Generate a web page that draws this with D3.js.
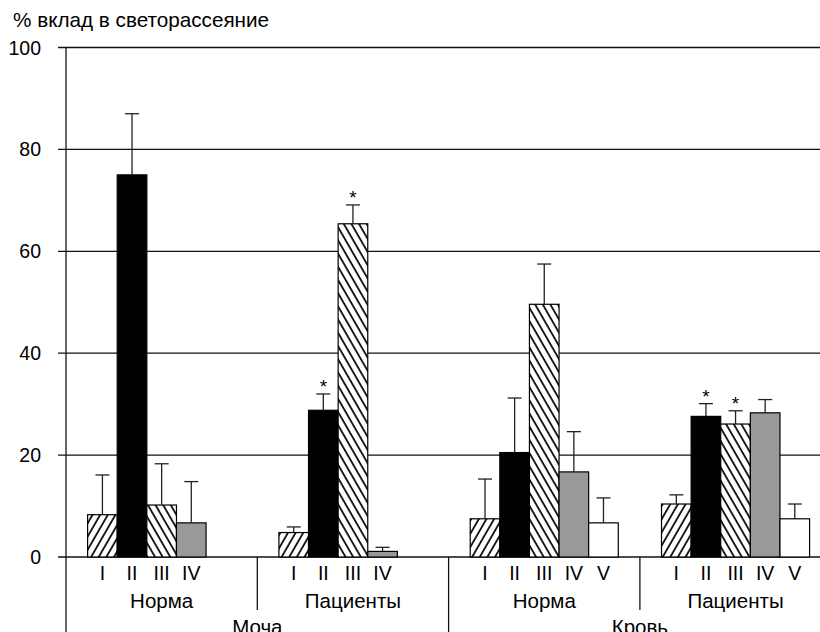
<!DOCTYPE html>
<html>
<head>
<meta charset="utf-8">
<script src="https://cdn.jsdelivr.net/npm/d3@7"></script>
<style>
  body { margin: 0; background: #fff; }
  svg text { font-family: "Liberation Sans", Arial, sans-serif; fill: #000; }
</style>
</head>
<body>
<div id="canvas"></div>
<script>
// data
var fractions = ['I', 'II', 'III', 'IV', 'V'];
var groups = ['Норма', 'Пациенты', 'Норма', 'Пациенты'];
var sources = ['Моча', 'Моча', 'Кровь', 'Кровь'];

var mochaNormaMean = [8.3, 75.0, 10.2, 6.7];
var mochaNormaErr = [7.8, 12.0, 8.1, 8.1];
var mochaPatMean = [4.8, 28.8, 65.4, 1.1];
var mochaPatErr = [1.1, 3.2, 3.7, 0.8];
var krovNormaMean = [7.5, 20.5, 49.6, 16.7, 6.7];
var krovNormaErr = [7.8, 10.7, 7.9, 7.9, 4.9];
var krovPatMean = [10.4, 27.6, 26.1, 28.3, 7.5];
var krovPatErr = [1.8, 2.5, 2.6, 2.6, 2.9];

// * p<0.05 vs норма : [group index, fraction]
var significant = [[1, 'II'], [1, 'III'], [3, 'II'], [3, 'III']];

var yTicks = [0, 20, 40, 60, 80, 100];

var means = [mochaNormaMean, mochaPatMean, krovNormaMean, krovPatMean];
var errs = [mochaNormaErr, mochaPatErr, krovNormaErr, krovPatErr];

var rows = [];
means.forEach(function(arr, g){
    arr.forEach(function(v, i){
        rows.push({g: g, f: fractions[i], v: v, e: errs[g][i]});
    });
});

var W = 820, H = 632;
var svg = d3.select('#canvas').append('svg')
    .attr('width', W).attr('height', H);

var defs = svg.append('defs');
function hatch(id, angle){
    var p = defs.append('pattern')
        .attr('id', id)
        .attr('patternUnits', 'userSpaceOnUse')
        .attr('width', 6.6).attr('height', 10)
        .attr('patternTransform', 'rotate(' + angle + ')');
    p.append('rect').attr('width', 6.6).attr('height', 10).attr('fill', '#fff');
    p.append('line').attr('x1', 1).attr('x2', 1).attr('y1', 0).attr('y2', 10)
        .attr('stroke', '#000').attr('stroke-width', 1.7);
}
hatch('fwd', 30);
hatch('back', -30);

var fills = {I: 'url(#fwd)', II: '#000', III: 'url(#back)', IV: '#999', V: '#fff'};

var y = d3.scaleLinear().domain([0, 100]).range([557, 47.5]);
var x0 = d3.scaleBand().domain(d3.range(groups.length))
    .range([66, 66 + 4 * 191.3]).padding(0);
var x1 = d3.scaleBand().domain(fractions)
    .range([0, x0.bandwidth()]).paddingInner(0).paddingOuter(0.73);

var axisLeft = 66;

// gridlines + y ticks
svg.append('g').selectAll('line').data(yTicks).enter().append('line')
    .attr('x1', 58).attr('x2', W)
    .attr('y1', function(d){ return y(d); })
    .attr('y2', function(d){ return y(d); })
    .attr('stroke', '#111').attr('stroke-width', 1.3);

svg.append('g').selectAll('text').data(yTicks).enter().append('text')
    .attr('x', 41).attr('y', function(d){ return y(d); })
    .attr('dy', '0.36em')
    .attr('text-anchor', 'end')
    .style('font-size', '19.5px')
    .text(function(d){ return d; });

// y axis line
svg.append('line')
    .attr('x1', axisLeft).attr('x2', axisLeft)
    .attr('y1', y(100)).attr('y2', H)
    .attr('stroke', '#111').attr('stroke-width', 1.3);

svg.append('text')
    .attr('x', 13).attr('y', 27)
    .style('font-size', '20.7px')
    .text('% вклад в светорассеяние');

// bars
svg.append('g').selectAll('rect').data(rows).enter().append('rect')
    .attr('x', function(d){ return x0(d.g) + x1(d.f); })
    .attr('y', function(d){ return y(d.v); })
    .attr('width', x1.bandwidth())
    .attr('height', function(d){ return y(0) - y(d.v); })
    .attr('fill', function(d){ return fills[d.f]; })
    .attr('stroke', '#000').attr('stroke-width', 1.2);

// error bars (upper only)
var eb = svg.append('g').selectAll('g').data(rows).enter().append('g')
    .attr('transform', function(d){
        return 'translate(' + (x0(d.g) + x1(d.f) + x1.bandwidth() / 2) + ',0)';
    });
eb.append('line')
    .attr('x1', 0).attr('x2', 0)
    .attr('y1', function(d){ return y(d.v); })
    .attr('y2', function(d){ return y(d.v + d.e); })
    .attr('stroke', '#222').attr('stroke-width', 1.3);
eb.append('line')
    .attr('x1', -7).attr('x2', 7)
    .attr('y1', function(d){ return y(d.v + d.e); })
    .attr('y2', function(d){ return y(d.v + d.e); })
    .attr('stroke', '#222').attr('stroke-width', 1.3);

// significance stars
svg.append('g').selectAll('text').data(significant).enter().append('text')
    .attr('x', function(d){ return x0(d[0]) + x1(d[1]) + x1.bandwidth() / 2; })
    .attr('y', function(d){
        var r = rows.filter(function(o){ return o.g === d[0] && o.f === d[1]; })[0];
        return y(r.v + r.e) - 1;
    })
    .attr('text-anchor', 'middle')
    .style('font-size', '19px')
    .text('*');

// x axis labels
svg.append('g').selectAll('text').data(rows).enter().append('text')
    .attr('x', function(d){ return x0(d.g) + x1(d.f) + x1.bandwidth() / 2; })
    .attr('y', 580)
    .attr('text-anchor', 'middle')
    .style('font-size', '19.5px')
    .text(function(d){ return d.f; });

svg.append('g').selectAll('text').data(groups).enter().append('text')
    .attr('x', function(d, i){ return x0(i) + x0.bandwidth() / 2; })
    .attr('y', 608)
    .attr('text-anchor', 'middle')
    .style('font-size', '20.5px')
    .text(function(d){ return d; });

var srcNames = ['Моча', 'Кровь'];
svg.append('g').selectAll('text').data(srcNames).enter().append('text')
    .attr('x', function(d, i){ return x0(i * 2) + x0.bandwidth(); })
    .attr('y', 634)
    .attr('text-anchor', 'middle')
    .style('font-size', '20.5px')
    .text(function(d){ return d; });

// separators under axis
svg.append('g').selectAll('line').data(d3.range(1, groups.length)).enter().append('line')
    .attr('x1', function(i){ return x0(i); })
    .attr('x2', function(i){ return x0(i); })
    .attr('y1', y(0))
    .attr('y2', function(i){ return sources[i] !== sources[i - 1] ? H : 610; })
    .attr('stroke', '#111').attr('stroke-width', 1.3);
</script>
</body>
</html>
